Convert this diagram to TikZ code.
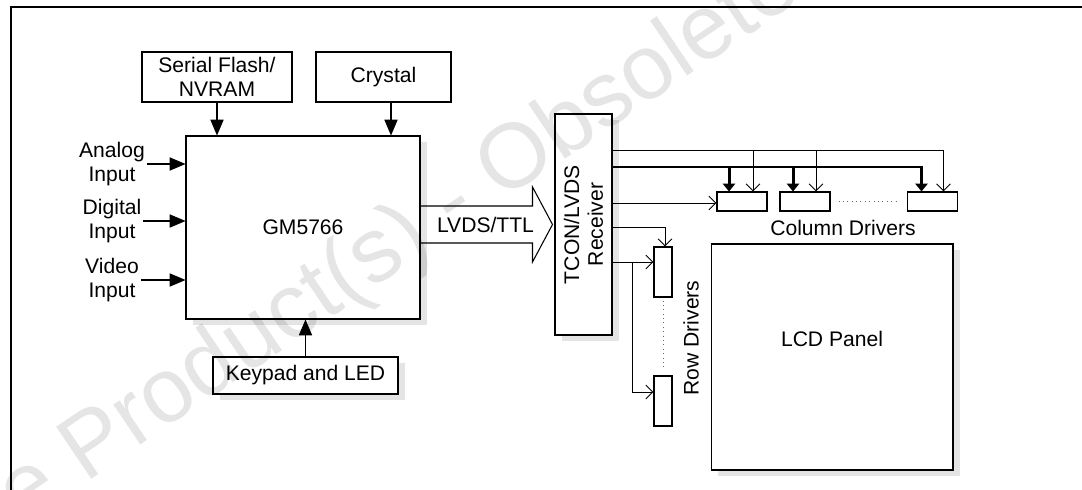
\documentclass[tikz,border=0pt]{standalone}
\usepackage{fontspec}
\setmainfont{Liberation Sans}
\usetikzlibrary{arrows.meta, positioning, shadows, calc}
\definecolor{shadegrey}{HTML}{E4E4E4}
\definecolor{dotgrey}{HTML}{666666}
\tikzset{
    txt/.style={font=\fontsize{12}{13.5}\selectfont},
    blk/.style={rectangle, draw=black, fill=white, line width=0.6pt,
        inner sep=2pt, align=center, txt},
    shd/.style={blk, drop shadow={shadow xshift=0.14cm,
        shadow yshift=-0.12cm, fill=shadegrey, opacity=1}},
    drv/.style={rectangle, draw=black, fill=white, line width=0.6pt,
        inner sep=0pt},
    lbl/.style={txt, align=center, inner sep=1pt},
    arr/.style={-{Triangle[length=9pt, width=7.5pt]}, line width=0.6pt},
    sig/.style={-{Straight Barb[length=4pt, width=8pt]}, line width=0.5pt},
    bus/.style={-{Triangle[length=4.5pt, width=7pt]}, line width=1.7pt},
    dots/.style={dotted, line width=0.5pt, color=dotgrey},
    wm/.style={font=\fontsize{52}{52}\selectfont, opacity=0.1,
        rotate=34, inner sep=0pt},
}

\begin{document}
\begin{tikzpicture}[x=0.02cm, y=-0.02cm]
\useasboundingbox (0,0) rectangle (1082,490);

% ================================================================
%  FRAME
% ================================================================

\draw[line width=1.1pt] (11,500) |- (1100,7);

% ================================================================
%  SCALER AND ITS INPUTS
% ================================================================

\node[shd, minimum width=4.68cm, minimum height=3.66cm] (gm) at (303,227.5)
    {GM5766};
\node[blk, minimum width=3cm, minimum height=1cm] (flash) at (217,77)
    {Serial Flash/\\NVRAM};
\node[blk, minimum width=2.7cm, minimum height=1cm] (crystal) at (383.5,77)
    {Crystal};
\node[shd, minimum width=3.7cm, minimum height=0.74cm] (keypad) at (305.5,375.5)
    {Keypad and LED};

\node[lbl] (ain) at (112,164) {Analog\\Input};
\node[lbl] (din) at (112,221) {Digital\\Input};
\node[lbl] (vin) at (112,280) {Video\\Input};

\draw[arr] (ain.east) -- (ain.east -| gm.west);
\draw[arr] (din.east) -- (din.east -| gm.west);
\draw[arr] (vin.east) -- (vin.east -| gm.west);

\draw[arr] (flash.south) -- (flash.south |- gm.north);
\coordinate (xtal) at ([xshift=0.15cm]crystal.south);
\draw[arr] (xtal) -- (xtal |- gm.north);
\draw[arr] (keypad.north) -- (keypad.north |- gm.south);

% ================================================================
%  RECEIVER AND LVDS LINK
% ================================================================

\node[shd, rotate=90, minimum width=4.42cm, minimum height=1.14cm] (rx)
    at (583.5,224.5) {TCON/LVDS\\Receiver};

% link arrow
\coordinate (lv) at (gm.east |- rx.center);
\draw[line width=0.6pt] (lv) ++(0,-18.5) -- ++(112,0) -- ++(0,-19)
    -- ++(20,37.5) -- ++(-20,37.5) -- ++(0,-19) -- ++(-112,0);
\node[lbl] (lvtxt) at ($(lv)+(65,0)$) {LVDS/TTL};

% ================================================================
%  COLUMN AND ROW DRIVERS
% ================================================================

\node[drv, minimum width=1cm, minimum height=0.38cm] (c1) at (742,201.5) {};
\node[drv, minimum width=1cm, minimum height=0.38cm] (c2) at (805,201.5) {};
\node[drv, minimum width=1cm, minimum height=0.38cm] (c3) at (932.5,201.5) {};
\node[lbl] (coltxt) at (843,228) {Column Drivers};

\node[drv, minimum width=0.36cm, minimum height=1cm] (r1) at (663,272) {};
\node[drv, minimum width=0.36cm, minimum height=1cm] (r2) at (663,401) {};
\node[lbl, rotate=90] (rowtxt) at (691,338) {Row Drivers};

\draw[dots] ([xshift=0.16cm]c2.east) -- ([xshift=-0.16cm]c3.west);
\draw[dots] ([yshift=-0.06cm]r1.south) -- ([yshift=0.18cm]r2.north);

\node[shd, minimum width=4.84cm, minimum height=4.52cm,
      label={[txt, yshift=0.36cm]center:LCD Panel}] (lcd) at (832,357) {};

% receiver outputs
\path (rx.south) ++(0,-74.5) coordinate (o1)
      (rx.south) ++(0,-57.5) coordinate (o2)
      (rx.south) ++(0,-21.5) coordinate (o3)
      (rx.south) ++(0,2.5)   coordinate (o4)
      (rx.south) ++(0,37.5)  coordinate (o5);

% control lines to column drivers
\draw[sig] (o1) -| ([xshift=0.22cm]c3.north);
\draw[sig] ([xshift=0.22cm]c1.north |- o1) -- ([xshift=0.22cm]c1.north);
\draw[sig] ([xshift=0.22cm]c2.north |- o1) -- ([xshift=0.22cm]c2.north);

% data bus to column drivers
\draw[bus] (o2) -| ([xshift=-0.22cm]c3.north);
\draw[bus] ([xshift=-0.26cm]c1.north |- o2) -- ([xshift=-0.26cm]c1.north);
\draw[bus] ([xshift=-0.24cm]c2.north |- o2) -- ([xshift=-0.24cm]c2.north);

\draw[sig] (o3) -- (o3 -| c1.west);

% row driver lines
\draw[sig] (o4) -| ([xshift=0.04cm]r1.north);
\draw[sig] (o5) -- (o5 -| r1.west);
\coordinate (rb) at ($(o5)+(20,0)$);
\draw[sig] (rb) |- ([yshift=0.18cm]r2.west);

% ================================================================
%  WATERMARK
% ================================================================

\node[wm] (wmark) at (455,205) {Obsolete Product(s) - Obsolete Product(s)};

\end{tikzpicture}
\end{document}
